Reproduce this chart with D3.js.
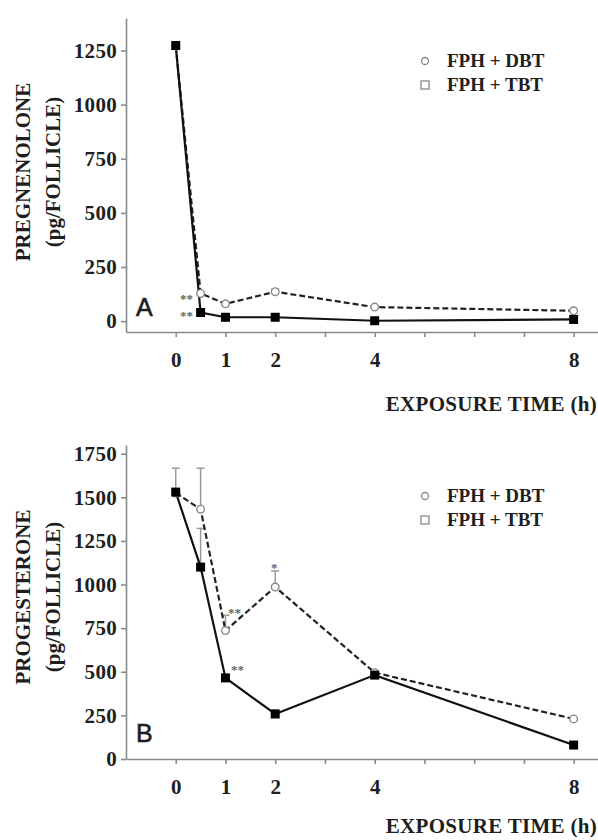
<!DOCTYPE html>
<html>
<head>
<meta charset="utf-8">
<script src="https://cdn.jsdelivr.net/npm/d3@7.9.0/dist/d3.min.js"></script>
<style>
  body { margin: 0; background: #fff; }
  svg text { font-family: 'Liberation Serif', 'Times New Roman', serif; font-weight: bold; fill: #1e1e1e; }
  .axis path, .axis line { stroke: #8a8a8a; stroke-width: 1.6; }
</style>
</head>
<body>
<svg id="chart" width="598" height="840"></svg>
<script>
// exposure times (h)
const times = [0, 0.5, 1, 2, 4, 8];
const xTicks = [0, 1, 2, 4, 8];
const xMinor = [3, 5, 6, 7];

// panel A: pregnenolone (pg/follicle)
const pregDBT = [1270, 128, 80, 136, 65, 48];
const pregTBT = [1273, 40, 18, 18, 2, 8];
const pregDBTErr = [0, 0, 0, 12, 0, 0];
const pregTBTErr = [0, 0, 0, 0, 0, 0];
const pregTicks = [0, 250, 500, 750, 1000, 1250];

// panel B: progesterone (pg/follicle)
const progDBT = [1525, 1432, 736, 986, 495, 230];
const progTBT = [1530, 1100, 465, 258, 481, 80];
const progDBTErr = [142, 235, 88, 92, 0, 0];
const progTBTErr = [0, 222, 0, 22, 0, 0];
const progTicks = [0, 250, 500, 750, 1000, 1250, 1500, 1750];

const svg = d3.select('#chart');

const x = d3.scaleLinear().domain([-1, 8.5]).range([126, 598.5]);

function panel(opts) {
  const g = svg.append('g');
  const y = d3.scaleLinear().domain(opts.yDomain).range(opts.yRange);
  const base = y(opts.yDomain[0]);

  // y axis
  g.append('g')
    .attr('class', 'axis')
    .attr('transform', `translate(${x(-1)},0)`)
    .call(d3.axisLeft(y).tickValues(opts.yTicks).tickFormat(d3.format('d'))
      .tickSize(5).tickPadding(4).tickSizeOuter(0))
    .call(a => a.selectAll('text').style('font-size', '21px').style('letter-spacing', '0.3px'));

  // x axis with labelled and unlabelled ticks
  g.append('g')
    .attr('class', 'axis')
    .attr('transform', `translate(0,${base})`)
    .call(d3.axisBottom(x).tickValues(xTicks).tickFormat(d3.format('d'))
      .tickSize(5).tickPadding(15).tickSizeOuter(0))
    .call(a => a.selectAll('text').style('font-size', '21px'));

  g.append('g')
    .attr('class', 'axis')
    .attr('transform', `translate(0,${base})`)
    .call(d3.axisBottom(x).tickValues(xMinor).tickSize(5).tickFormat('').tickSizeOuter(0))
    .call(a => a.select('.domain').remove());

  // axis titles
  const yMid = (opts.yRange[0] + opts.yRange[1]) / 2 + opts.titleShift;
  g.append('text')
    .attr('transform', `translate(30,${yMid}) rotate(-90)`)
    .attr('text-anchor', 'middle')
    .style('font-size', '21px')
    .text(opts.yTitle);
  g.append('text')
    .attr('transform', `translate(60,${yMid}) rotate(-90)`)
    .attr('text-anchor', 'middle')
    .style('font-size', '21px')
    .text('(pg/FOLLICLE)');
  g.append('text')
    .attr('x', 597)
    .attr('y', opts.xTitleY)
    .attr('text-anchor', 'end')
    .style('font-size', '21px')
    .style('letter-spacing', '0.3px')
    .text('EXPOSURE TIME (h)');

  // panel letter
  g.append('text')
    .attr('x', 136)
    .attr('y', opts.letterY)
    .style('font-family', "'Liberation Sans', Arial, sans-serif")
    .style('font-weight', 'normal')
    .style('font-size', '25px')
    .style('stroke', '#1e1e1e')
    .style('stroke-width', 0.6)
    .text(opts.letter);

  const series = [
    { vals: opts.dbt, err: opts.dbtErr },
    { vals: opts.tbt, err: opts.tbtErr }
  ];

  // error bars
  series.forEach(s => {
    times.forEach((t, i) => {
      if (!s.err[i]) return;
      g.append('line')
        .attr('x1', x(t)).attr('x2', x(t))
        .attr('y1', y(s.vals[i])).attr('y2', y(s.vals[i] + s.err[i]))
        .attr('stroke', '#9a9a9a').attr('stroke-width', 1.5);
      g.append('line')
        .attr('x1', x(t) - 4).attr('x2', x(t) + 4)
        .attr('y1', y(s.vals[i] + s.err[i])).attr('y2', y(s.vals[i] + s.err[i]))
        .attr('stroke', '#9a9a9a').attr('stroke-width', 1.5);
    });
  });

  const line = d3.line().x((d, i) => x(times[i])).y(d => y(d));

  g.append('path')
    .datum(opts.dbt)
    .attr('d', line)
    .attr('fill', 'none')
    .attr('stroke', '#222')
    .attr('stroke-width', 2.2)
    .attr('stroke-dasharray', '6,3');

  g.append('path')
    .datum(opts.tbt)
    .attr('d', line)
    .attr('fill', 'none')
    .attr('stroke', '#111')
    .attr('stroke-width', 2.2);

  g.selectAll('.dbt')
    .data(opts.dbt)
    .join('circle')
    .attr('cx', (d, i) => x(times[i]))
    .attr('cy', d => y(d))
    .attr('r', 3.8)
    .attr('fill', '#fff')
    .attr('stroke', '#888')
    .attr('stroke-width', 1.4);

  g.selectAll('.tbt')
    .data(opts.tbt)
    .join('rect')
    .attr('x', (d, i) => x(times[i]) - 4.5)
    .attr('y', d => y(d) - 4.5)
    .attr('width', 9)
    .attr('height', 9)
    .attr('fill', '#000');

  // significance marks
  opts.stars.forEach(s => {
    g.append('text')
      .attr('x', s.x)
      .attr('y', s.y)
      .style('font-size', '13px')
      .style('fill', '#666')
      .text(s.txt);
  });

  // legend
  const lx = 425;
  g.append('circle')
    .attr('cx', lx).attr('cy', opts.legendY)
    .attr('r', 3.5)
    .attr('fill', '#fff').attr('stroke', '#888').attr('stroke-width', 1.3);
  g.append('rect')
    .attr('x', lx - 4).attr('y', opts.legendY + 24 - 4)
    .attr('width', 8).attr('height', 8)
    .attr('fill', '#fff').attr('stroke', '#888').attr('stroke-width', 1.3);
  g.append('text')
    .attr('x', lx + 22).attr('y', opts.legendY + 6)
    .style('font-size', '19px')
    .text('FPH + DBT');
  g.append('text')
    .attr('x', lx + 22).attr('y', opts.legendY + 30)
    .style('font-size', '19px')
    .text('FPH + TBT');
}

panel({
  yDomain: [-50, 1400], yRange: [332, 18], yTicks: pregTicks,
  dbt: pregDBT, tbt: pregTBT, dbtErr: pregDBTErr, tbtErr: pregTBTErr,
  yTitle: 'PREGNENOLONE', titleShift: -3, xTitleY: 411,
  letter: 'A', letterY: 316, legendY: 61,
  stars: [
    { x: 180, y: 303, txt: '**' },
    { x: 180, y: 320, txt: '**' }
  ]
});

panel({
  yDomain: [0, 1800], yRange: [759, 445], yTicks: progTicks,
  dbt: progDBT, tbt: progTBT, dbtErr: progDBTErr, tbtErr: progTBTErr,
  yTitle: 'PROGESTERONE', titleShift: -5, xTitleY: 833,
  letter: 'B', letterY: 742, legendY: 496,
  stars: [
    { x: 228, y: 617, txt: '**' },
    { x: 231, y: 674, txt: '**' },
    { x: 271, y: 572, txt: '*' }
  ]
});
</script>
</body>
</html>
